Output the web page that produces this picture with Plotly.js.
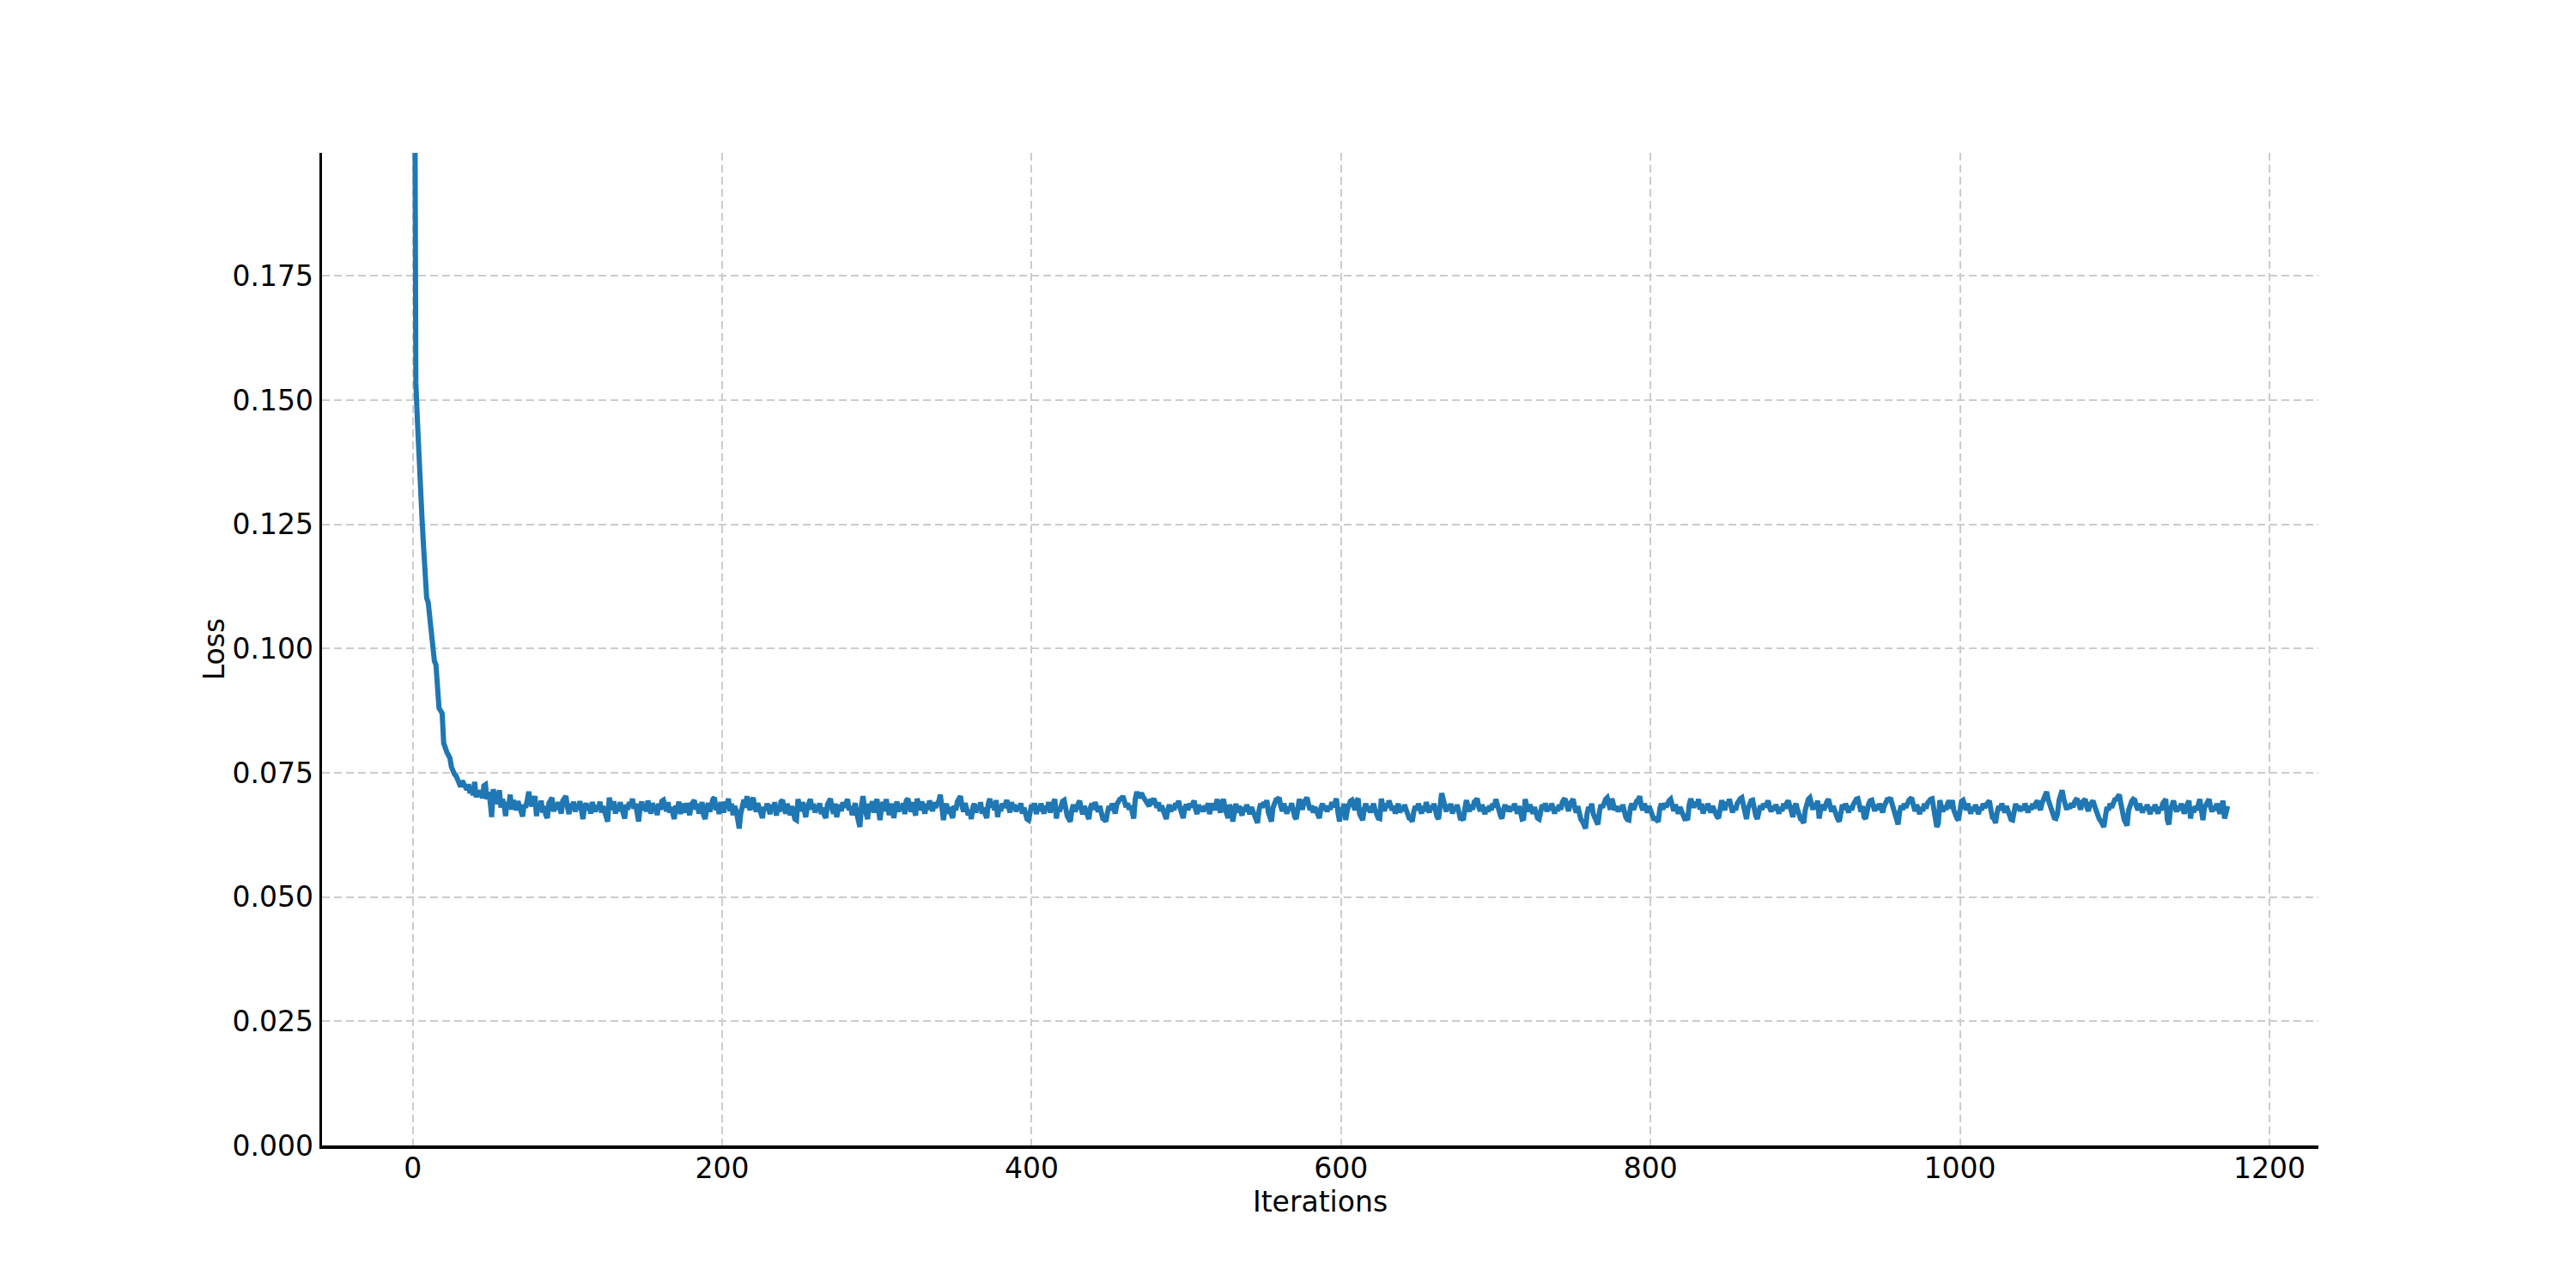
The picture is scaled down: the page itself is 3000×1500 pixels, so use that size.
<!DOCTYPE html>
<html>
<head>
<meta charset="utf-8">
<script src="https://cdn.plot.ly/plotly-3.0.1.min.js"></script>
<style>html,body{margin:0;padding:0;background:#fff;}#chart{width:3000px;height:1500px;}</style>
</head>
<body>
<div id="chart"></div>
<script>
// Loss per iteration (index = iteration)
const lossValues = [
0.3500,0.1925,0.1535,0.1460,0.1380,0.1285,0.1262,0.1205,0.1150,0.1102,
0.1093,0.1060,0.1020,0.0985,0.0975,0.0968,0.0925,0.0880,0.0875,0.0870,
0.0810,0.0798,0.0792,0.0786,0.0780,0.0762,0.0752,0.0747,0.0744,0.0738,
0.0733,0.0722,0.0734,0.0726,0.0718,0.0716,0.0727,0.0709,0.0719,0.0705,
0.0732,0.0701,0.0712,0.0703,0.0715,0.0699,0.0724,0.0726,0.0697,0.0711,
0.0693,0.0661,0.0717,0.0695,0.0688,0.0695,0.0715,0.0680,0.0697,0.0686,
0.0663,0.0691,0.0683,0.0706,0.0676,0.0695,0.0688,0.0675,0.0693,0.0681,
0.0668,0.0662,0.0686,0.0680,0.0695,0.0712,0.0691,0.0683,0.0695,0.0703,
0.0663,0.0688,0.0678,0.0694,0.0670,0.0683,0.0665,0.0659,0.0689,0.0696,
0.0700,0.0672,0.0686,0.0676,0.0691,0.0681,0.0668,0.0694,0.0697,0.0703,
0.0681,0.0667,0.0688,0.0678,0.0692,0.0672,0.0684,0.0676,0.0693,0.0664,
0.0657,0.0680,0.0689,0.0675,0.0686,0.0668,0.0691,0.0681,0.0672,0.0684,
0.0678,0.0692,0.0670,0.0683,0.0675,0.0665,0.0652,0.0700,0.0688,0.0676,
0.0693,0.0668,0.0683,0.0673,0.0691,0.0680,0.0665,0.0658,0.0686,0.0676,
0.0691,0.0681,0.0698,0.0678,0.0688,0.0667,0.0652,0.0681,0.0692,0.0675,
0.0686,0.0672,0.0694,0.0680,0.0668,0.0689,0.0678,0.0684,0.0665,0.0688,
0.0676,0.0693,0.0695,0.0683,0.0673,0.0691,0.0670,0.0681,0.0663,0.0657,
0.0684,0.0675,0.0692,0.0667,0.0688,0.0680,0.0670,0.0689,0.0678,0.0665,
0.0686,0.0694,0.0695,0.0676,0.0688,0.0668,0.0681,0.0691,0.0664,0.0657,
0.0678,0.0689,0.0672,0.0693,0.0697,0.0700,0.0675,0.0686,0.0667,0.0691,
0.0680,0.0670,0.0692,0.0681,0.0698,0.0673,0.0688,0.0665,0.0683,0.0675,
0.0657,0.0638,0.0668,0.0691,0.0696,0.0680,0.0703,0.0688,0.0675,0.0693,
0.0700,0.0683,0.0672,0.0689,0.0678,0.0664,0.0659,0.0681,0.0675,0.0688,
0.0678,0.0667,0.0686,0.0675,0.0691,0.0664,0.0681,0.0672,0.0692,0.0695,
0.0680,0.0668,0.0688,0.0676,0.0665,0.0683,0.0663,0.0657,0.0655,0.0697,
0.0683,0.0673,0.0691,0.0678,0.0661,0.0681,0.0692,0.0697,0.0676,0.0688,
0.0670,0.0681,0.0675,0.0689,0.0667,0.0680,0.0665,0.0659,0.0686,0.0693,
0.0698,0.0678,0.0668,0.0688,0.0661,0.0676,0.0686,0.0673,0.0691,0.0680,
0.0688,0.0697,0.0675,0.0683,0.0665,0.0678,0.0689,0.0668,0.0658,0.0641,
0.0684,0.0703,0.0680,0.0668,0.0657,0.0688,0.0675,0.0693,0.0670,0.0683,
0.0697,0.0676,0.0655,0.0681,0.0691,0.0673,0.0697,0.0680,0.0665,0.0688,
0.0675,0.0659,0.0683,0.0692,0.0672,0.0684,0.0676,0.0689,0.0667,0.0694,
0.0698,0.0681,0.0672,0.0691,0.0678,0.0664,0.0698,0.0686,0.0675,0.0692,
0.0680,0.0668,0.0688,0.0676,0.0694,0.0683,0.0673,0.0691,0.0680,0.0688,
0.0693,0.0706,0.0681,0.0655,0.0678,0.0688,0.0668,0.0681,0.0667,0.0659,
0.0684,0.0675,0.0692,0.0697,0.0703,0.0683,0.0672,0.0689,0.0678,0.0665,
0.0675,0.0657,0.0680,0.0688,0.0670,0.0683,0.0675,0.0691,0.0668,0.0680,
0.0667,0.0659,0.0688,0.0698,0.0680,0.0689,0.0675,0.0695,0.0661,0.0681,
0.0673,0.0688,0.0680,0.0693,0.0695,0.0683,0.0670,0.0691,0.0678,0.0686,
0.0672,0.0683,0.0675,0.0689,0.0668,0.0680,0.0662,0.0657,0.0655,0.0672,
0.0686,0.0676,0.0689,0.0667,0.0681,0.0673,0.0688,0.0678,0.0668,0.0683,
0.0676,0.0691,0.0670,0.0681,0.0688,0.0697,0.0658,0.0680,0.0672,0.0686,
0.0693,0.0695,0.0675,0.0663,0.0658,0.0652,0.0675,0.0686,0.0672,0.0681,
0.0689,0.0694,0.0678,0.0667,0.0683,0.0673,0.0663,0.0657,0.0680,0.0688,
0.0676,0.0691,0.0681,0.0672,0.0683,0.0665,0.0658,0.0656,0.0652,0.0670,
0.0683,0.0675,0.0688,0.0680,0.0668,0.0686,0.0692,0.0697,0.0698,0.0703,
0.0693,0.0681,0.0689,0.0676,0.0684,0.0670,0.0658,0.0698,0.0712,0.0700,
0.0704,0.0709,0.0702,0.0697,0.0695,0.0691,0.0683,0.0697,0.0693,0.0698,
0.0688,0.0680,0.0691,0.0673,0.0684,0.0676,0.0663,0.0657,0.0675,0.0686,
0.0672,0.0683,0.0675,0.0689,0.0681,0.0694,0.0678,0.0668,0.0659,0.0680,
0.0686,0.0675,0.0688,0.0681,0.0691,0.0694,0.0676,0.0667,0.0686,0.0673,
0.0681,0.0672,0.0684,0.0676,0.0689,0.0667,0.0680,0.0688,0.0675,0.0692,
0.0697,0.0681,0.0670,0.0688,0.0697,0.0678,0.0665,0.0659,0.0686,0.0675,
0.0652,0.0678,0.0688,0.0670,0.0683,0.0675,0.0664,0.0681,0.0672,0.0686,
0.0676,0.0667,0.0681,0.0672,0.0663,0.0659,0.0649,0.0675,0.0688,0.0680,
0.0691,0.0683,0.0695,0.0670,0.0657,0.0652,0.0680,0.0689,0.0696,0.0697,
0.0700,0.0683,0.0673,0.0688,0.0678,0.0668,0.0681,0.0675,0.0689,0.0667,
0.0662,0.0657,0.0680,0.0697,0.0688,0.0676,0.0691,0.0698,0.0700,0.0686,
0.0675,0.0684,0.0670,0.0681,0.0673,0.0663,0.0659,0.0680,0.0688,0.0675,
0.0684,0.0672,0.0683,0.0676,0.0691,0.0681,0.0694,0.0698,0.0670,0.0652,
0.0680,0.0667,0.0688,0.0655,0.0675,0.0686,0.0693,0.0695,0.0681,0.0675,
0.0694,0.0698,0.0667,0.0657,0.0655,0.0678,0.0688,0.0673,0.0683,0.0670,
0.0680,0.0688,0.0675,0.0665,0.0659,0.0658,0.0698,0.0683,0.0673,0.0688,
0.0680,0.0694,0.0686,0.0675,0.0683,0.0668,0.0678,0.0688,0.0670,0.0681,
0.0673,0.0686,0.0676,0.0665,0.0659,0.0658,0.0652,0.0672,0.0683,0.0675,
0.0688,0.0678,0.0668,0.0683,0.0673,0.0691,0.0680,0.0670,0.0684,0.0676,
0.0688,0.0667,0.0662,0.0657,0.0693,0.0709,0.0697,0.0681,0.0672,0.0686,
0.0676,0.0688,0.0668,0.0681,0.0673,0.0686,0.0665,0.0659,0.0659,0.0655,
0.0678,0.0695,0.0683,0.0672,0.0686,0.0676,0.0691,0.0696,0.0698,0.0681,
0.0673,0.0686,0.0676,0.0667,0.0681,0.0672,0.0684,0.0675,0.0688,0.0680,
0.0697,0.0689,0.0675,0.0664,0.0658,0.0676,0.0686,0.0673,0.0683,0.0672,
0.0681,0.0675,0.0688,0.0678,0.0668,0.0683,0.0662,0.0657,0.0658,0.0697,
0.0683,0.0672,0.0686,0.0676,0.0668,0.0681,0.0664,0.0659,0.0657,0.0675,
0.0686,0.0676,0.0689,0.0672,0.0683,0.0675,0.0688,0.0680,0.0668,0.0681,
0.0673,0.0686,0.0676,0.0691,0.0696,0.0695,0.0683,0.0673,0.0688,0.0693,
0.0697,0.0680,0.0670,0.0683,0.0663,0.0656,0.0652,0.0645,0.0638,0.0668,
0.0681,0.0675,0.0688,0.0667,0.0658,0.0655,0.0646,0.0672,0.0686,0.0680,
0.0691,0.0697,0.0700,0.0688,0.0676,0.0698,0.0689,0.0675,0.0683,0.0672,
0.0681,0.0673,0.0686,0.0667,0.0661,0.0656,0.0655,0.0680,0.0688,0.0676,
0.0686,0.0693,0.0695,0.0703,0.0684,0.0675,0.0688,0.0678,0.0670,0.0683,
0.0675,0.0664,0.0658,0.0658,0.0655,0.0652,0.0678,0.0688,0.0676,0.0689,
0.0681,0.0691,0.0694,0.0697,0.0683,0.0673,0.0686,0.0676,0.0668,0.0681,
0.0673,0.0664,0.0658,0.0659,0.0655,0.0686,0.0698,0.0689,0.0680,0.0691,
0.0683,0.0697,0.0676,0.0688,0.0668,0.0681,0.0675,0.0688,0.0680,0.0670,
0.0683,0.0675,0.0665,0.0662,0.0659,0.0689,0.0695,0.0683,0.0675,0.0691,
0.0686,0.0697,0.0678,0.0670,0.0683,0.0675,0.0688,0.0694,0.0698,0.0700,
0.0686,0.0667,0.0657,0.0678,0.0688,0.0694,0.0695,0.0675,0.0664,0.0657,
0.0675,0.0684,0.0676,0.0688,0.0681,0.0691,0.0694,0.0680,0.0672,0.0683,
0.0675,0.0686,0.0676,0.0668,0.0681,0.0673,0.0688,0.0678,0.0689,0.0694,
0.0684,0.0672,0.0661,0.0680,0.0688,0.0676,0.0665,0.0657,0.0655,0.0649,
0.0675,0.0688,0.0697,0.0700,0.0686,0.0676,0.0689,0.0680,0.0694,0.0658,
0.0678,0.0686,0.0675,0.0688,0.0692,0.0697,0.0681,0.0672,0.0683,0.0673,
0.0664,0.0657,0.0652,0.0675,0.0686,0.0676,0.0688,0.0680,0.0670,0.0683,
0.0675,0.0686,0.0693,0.0697,0.0698,0.0681,0.0672,0.0683,0.0661,0.0658,
0.0680,0.0688,0.0694,0.0695,0.0683,0.0673,0.0686,0.0676,0.0688,0.0680,
0.0670,0.0683,0.0691,0.0696,0.0696,0.0700,0.0689,0.0676,0.0663,0.0656,
0.0646,0.0672,0.0684,0.0676,0.0688,0.0680,0.0691,0.0695,0.0698,0.0697,
0.0683,0.0673,0.0686,0.0676,0.0667,0.0681,0.0673,0.0688,0.0678,0.0689,
0.0694,0.0697,0.0698,0.0681,0.0657,0.0641,0.0648,0.0695,0.0681,0.0672,
0.0684,0.0676,0.0688,0.0694,0.0678,0.0695,0.0675,0.0665,0.0659,0.0655,
0.0673,0.0693,0.0695,0.0683,0.0675,0.0688,0.0678,0.0668,0.0681,0.0673,
0.0686,0.0676,0.0667,0.0681,0.0675,0.0688,0.0680,0.0686,0.0692,0.0694,
0.0675,0.0660,0.0658,0.0649,0.0670,0.0683,0.0675,0.0688,0.0680,0.0670,
0.0683,0.0675,0.0662,0.0656,0.0655,0.0678,0.0688,0.0676,0.0684,0.0673,
0.0681,0.0675,0.0688,0.0680,0.0670,0.0683,0.0676,0.0688,0.0678,0.0689,
0.0694,0.0684,0.0675,0.0689,0.0698,0.0703,0.0712,0.0696,0.0686,0.0675,
0.0665,0.0659,0.0658,0.0667,0.0694,0.0703,0.0715,0.0698,0.0688,0.0676,
0.0686,0.0678,0.0689,0.0681,0.0691,0.0696,0.0695,0.0684,0.0676,0.0691,
0.0694,0.0697,0.0681,0.0673,0.0686,0.0692,0.0694,0.0683,0.0672,0.0663,
0.0657,0.0653,0.0647,0.0641,0.0663,0.0681,0.0675,0.0688,0.0680,0.0691,
0.0696,0.0697,0.0702,0.0706,0.0688,0.0668,0.0657,0.0650,0.0644,0.0675,
0.0686,0.0693,0.0697,0.0695,0.0683,0.0675,0.0688,0.0678,0.0670,0.0681,
0.0675,0.0686,0.0676,0.0667,0.0681,0.0673,0.0686,0.0678,0.0668,0.0681,
0.0675,0.0688,0.0694,0.0697,0.0656,0.0646,0.0675,0.0686,0.0694,0.0681,
0.0672,0.0683,0.0675,0.0688,0.0678,0.0668,0.0681,0.0688,0.0694,0.0658,
0.0680,0.0670,0.0683,0.0675,0.0688,0.0697,0.0676,0.0655,0.0680,0.0688,
0.0693,0.0697,0.0681,0.0672,0.0683,0.0675,0.0688,0.0678,0.0668,0.0681,
0.0694,0.0658,0.0675,0.0683
];
const iterations = lossValues.map((_, i) => i);
const xTickVals = [0, 200, 400, 600, 800, 1000, 1200];
const yTickVals = [0, 0.025, 0.05, 0.075, 0.1, 0.125, 0.15, 0.175];
const xLabel = 'Iterations';
const yLabel = 'Loss';

const font = {family: 'DejaVu Sans, sans-serif', size: 33, color: '#000'};
const data = [{
  x: iterations, y: lossValues, type: 'scatter', mode: 'lines',
  line: {color: '#1f77b4', width: 6}, hoverinfo: 'skip', cliponaxis: true
}];
const axisCommon = {
  showgrid: true, gridcolor: '#cccccc', gridwidth: 2, griddash: '9px,5px',
  showline: true, linecolor: '#000', linewidth: 3.5, mirror: false,
  zeroline: false, ticks: '', tickfont: font, automargin: false
};
const layout = {
  width: 3000, height: 1500,
  margin: {l: 375, r: 300, t: 178, b: 166, pad: 0},
  paper_bgcolor: '#fff', plot_bgcolor: '#fff',
  showlegend: false, font: font,
  xaxis: Object.assign({}, axisCommon, {
    range: [-58.65, 1231.65], tickmode: 'array', tickvals: xTickVals,
    ticktext: xTickVals.map(String), ticklabelstandoff: -5,
    title: {text: xLabel, font: font, standoff: 2}
  }),
  yaxis: Object.assign({}, axisCommon, {
    range: [0, 0.1998], tickmode: 'array', tickvals: yTickVals,
    ticktext: yTickVals.map(v => v.toFixed(3)), ticklabelstandoff: 0,
    title: {text: yLabel, font: font, standoff: 0}
  })
};
Plotly.newPlot('chart', data, layout, {staticPlot: true, displayModeBar: false});
</script>
</body>
</html>
